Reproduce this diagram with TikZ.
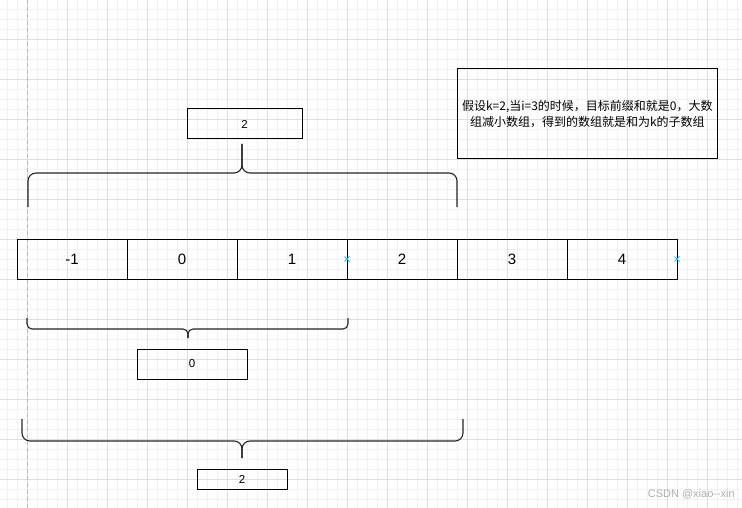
\documentclass[tikz,border=0pt]{standalone}
\usepackage{fontspec}
\setmainfont{Liberation Sans}
\newfontfamily\cjk{Noto Sans CJK SC}
\definecolor{minorg}{HTML}{F1F1F1}
\definecolor{majorg}{HTML}{DEDEDE}
\definecolor{dashg}{HTML}{B8B8B8}
\definecolor{markblue}{HTML}{29B6F2}
\definecolor{wmark}{HTML}{B0B0B0}
\begin{document}
\begin{tikzpicture}[x=1pt,y=-1pt,
  cell/.style={draw=black,line width=1pt,minimum width=110pt,minimum height=40pt,inner sep=0pt,outer sep=0pt,font=\fontsize{15}{18}\selectfont},
  valbox/.style={draw=black,line width=1pt,inner sep=0pt,outer sep=0pt,font=\fontsize{11.5}{14}\selectfont},
  brace/.style={draw=black!85,line width=1.1pt,line join=round},
  mk/.style={draw=markblue,line width=1pt}]
\useasboundingbox (0,0) rectangle (742,508);
\fill[white] (0,0) rectangle (742,508);
% grid
\foreach \x in {7,17,...,737} \draw[minorg,line width=0.8pt] (\x,0) -- (\x,508);
\foreach \y in {9,19,...,499} \draw[minorg,line width=0.8pt] (0,\y) -- (742,\y);
\foreach \x in {27,67,...,737} \draw[majorg,line width=0.8pt] (\x,0) -- (\x,508);
\foreach \y in {39,79,...,499} \draw[majorg,line width=0.8pt] (0,\y) -- (742,\y);
\draw[dashg,line width=0.9pt,dash pattern=on 4pt off 3pt] (27,0) -- (27,508);
% array cells
\node[cell] (c1) at (72,259) {-1};
\node[cell] (c2) at (182,259) {0};
\node[cell] (c3) at (292,259) {1};
\node[cell] (c4) at (402,259) {2};
\node[cell] (c5) at (512,259) {3};
\node[cell] (c6) at (622,259) {4};
% connection markers
\foreach \n in {c3,c6}{
  \draw[mk] ([shift={(-2.5,-2.5)}]\n.east) -- ([shift={(2.5,2.5)}]\n.east);
  \draw[mk] ([shift={(-2.5,2.5)}]\n.east) -- ([shift={(2.5,-2.5)}]\n.east);
}
% value boxes
\node[valbox,minimum width=115pt,minimum height=30pt] (top) at (244.5,124) {2};
\node[valbox,minimum width=110pt,minimum height=30pt] (mid) at (192,364) {0};
\node[valbox,minimum width=90pt,minimum height=20pt] (bot) at (242,479) {2};
% note
\node[draw=black,line width=1pt,minimum width=260.7pt,minimum height=90pt,inner sep=0pt,outer sep=0pt,
  text width=258pt,align=center,font=\cjk\fontsize{12}{15.3}\selectfont] (note) at (587.35,114)
  {假设k=2,当i=3的时候，目标前缀和就是0，大数\\组减小数组，得到的数组就是和为k的子数组};
% top brace
\coordinate (tL) at (28,207); \coordinate (tR) at (457,207);
\coordinate (tM) at (242,173); \coordinate (tT) at (242,144);
\draw[brace,rounded corners=8] (tL) -- (tL |- tM) -- (tM) -- (tT);
\draw[brace,rounded corners=8] (tR) -- (tR |- tM) -- (tM) -- (tT);
% bottom brace 1
\coordinate (aL) at (27,318); \coordinate (aR) at (348,318);
\coordinate (aM) at (188,329); \coordinate (aT) at (188,338);
\draw[brace,rounded corners=5] (aL) -- (aL |- aM) -- (aM) -- (aT);
\draw[brace,rounded corners=5] (aR) -- (aR |- aM) -- (aM) -- (aT);
% bottom brace 2
\coordinate (bL) at (22,419); \coordinate (bR) at (463,419);
\coordinate (bM) at (242,441); \coordinate (bT) at (242,458);
\draw[brace,rounded corners=8] (bL) -- (bL |- bM) -- (bM) -- (bT);
\draw[brace,rounded corners=8] (bR) -- (bR |- bM) -- (bM) -- (bT);
% watermark
\node[anchor=east,inner sep=0pt,text=wmark,font=\fontsize{11}{13}\selectfont] (wm) at (735,494) {CSDN @xiao{-}{-}xin};
\end{tikzpicture}
\end{document}
